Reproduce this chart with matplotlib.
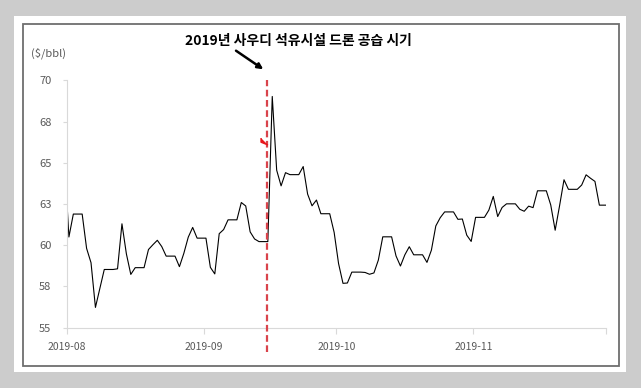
import matplotlib
matplotlib.use("Agg")
import matplotlib.pyplot as plt
import pandas as pd
from matplotlib.patches import Rectangle

plt.rcParams['font.family'] = ['Noto Sans CJK KR', 'DejaVu Sans']

# Brent daily closes (trading days only)
TRADE_DATES = [
    "2019-07-31", "2019-08-01", "2019-08-02", "2019-08-05", "2019-08-06", "2019-08-07",
    "2019-08-08", "2019-08-09", "2019-08-12", "2019-08-13", "2019-08-14", "2019-08-15",
    "2019-08-16", "2019-08-19", "2019-08-20", "2019-08-21", "2019-08-22", "2019-08-23",
    "2019-08-26", "2019-08-27", "2019-08-28", "2019-08-29", "2019-08-30", "2019-09-02",
    "2019-09-03", "2019-09-04", "2019-09-05", "2019-09-06", "2019-09-09", "2019-09-10",
    "2019-09-11", "2019-09-12", "2019-09-13", "2019-09-16", "2019-09-17", "2019-09-18",
    "2019-09-19", "2019-09-20", "2019-09-23", "2019-09-24", "2019-09-25", "2019-09-26",
    "2019-09-27", "2019-09-30", "2019-10-01", "2019-10-02", "2019-10-03", "2019-10-04",
    "2019-10-07", "2019-10-08", "2019-10-09", "2019-10-10", "2019-10-11", "2019-10-14",
    "2019-10-15", "2019-10-16", "2019-10-17", "2019-10-18", "2019-10-21", "2019-10-22",
    "2019-10-23", "2019-10-24", "2019-10-25", "2019-10-28", "2019-10-29", "2019-10-30",
    "2019-10-31", "2019-11-01", "2019-11-04", "2019-11-05", "2019-11-06", "2019-11-07",
    "2019-11-08", "2019-11-11", "2019-11-12", "2019-11-13", "2019-11-14", "2019-11-15",
    "2019-11-18", "2019-11-19", "2019-11-20", "2019-11-21", "2019-11-22", "2019-11-25",
    "2019-11-26", "2019-11-27", "2019-11-28", "2019-11-29",
]
BRENT = [
    65.2, 60.50, 61.89, 59.81, 58.94, 56.23,
    57.38, 58.53, 58.57, 61.30, 59.48, 58.23,
    58.64, 59.74, 60.03, 60.30, 59.92, 59.34,
    58.70, 59.51, 60.49, 61.08, 60.43, 58.66,
    58.26, 60.70, 60.95, 61.54, 62.59, 62.38,
    60.81, 60.38, 60.22, 69.02, 64.55, 63.60,
    64.40, 64.28, 64.77, 63.10, 62.39, 62.74,
    61.91, 60.78, 58.89, 57.69, 57.71, 58.37,
    58.35, 58.24, 58.32, 59.10, 60.51, 59.35,
    58.74, 59.42, 59.91, 59.42, 58.96, 59.70,
    61.17, 61.67, 62.02, 61.57, 61.59, 60.61,
    60.23, 61.69, 62.13, 62.96, 61.74, 62.29,
    62.51, 62.18, 62.06, 62.37, 62.28, 63.30,
    62.44, 60.91, 62.40, 63.97, 63.39, 63.65,
    64.27, 64.06, 63.87, 62.43,
]

Y_TICKS = [55, 57.5, 60, 62.5, 65, 67.5, 70]
Y_LABELS = ["55", "58", "60", "63", "65", "68", "70"]
X_TICKS = ["2019-08-01", "2019-09-01", "2019-10-01", "2019-11-01", "2019-12-01"]
X_LABELS = ["2019-08", "2019-09", "2019-10", "2019-11", ""]
EVENT_DATE = "2019-09-15 08:00"
EVENT_LABEL = "2019년 사우디 석유시설 드론 공습 시기"
UNIT = "($/bbl)"

# weekends carry the previous close, as in the source chart
s = pd.Series(BRENT, index=pd.to_datetime(TRADE_DATES))
s = s.reindex(pd.date_range("2019-07-31", "2019-12-01", freq="D")).ffill()
x = s.index + pd.Timedelta(hours=12)

W, H = 641, 388
fig = plt.figure(figsize=(W / 100, H / 100), dpi=100, facecolor='#cccccc')

# white panel and dark frame (behind the axes)
fig.patches.append(Rectangle((14 / W, 1 - 372 / H), 612 / W, 356 / H,
                             transform=fig.transFigure, facecolor='white',
                             edgecolor='none', zorder=-3))
fig.patches.append(Rectangle((23 / W, 1 - 366 / H), 596 / W, 342 / H,
                             transform=fig.transFigure, facecolor='none',
                             edgecolor='#6e6e6e', lw=1.3, zorder=-2))

ax = fig.add_axes([66.7 / W, 1 - 327.7 / H, (606 - 66.7) / W, (327.7 - 80.3) / H])
ax.set_facecolor('none')
ax.plot(x, s.values, color='black', lw=0.8)

ax.set_xlim(pd.Timestamp("2019-08-01"), pd.Timestamp("2019-12-01"))
ax.set_ylim(55, 70)
ax.set_yticks(Y_TICKS)
ax.set_yticklabels(Y_LABELS)
ax.set_xticks(pd.to_datetime(X_TICKS))
ax.set_xticklabels(X_LABELS)

for side in ['top', 'right']:
    ax.spines[side].set_visible(False)
for side in ['left', 'bottom']:
    ax.spines[side].set_color('#d9d9d9')
    ax.spines[side].set_linewidth(0.8)
ax.tick_params(axis='y', length=3, width=0.8, color='#d9d9d9', pad=8,
               labelsize=8, labelcolor='#595959')
ax.tick_params(axis='x', length=4, width=0.8, color='#d9d9d9', pad=6,
               labelsize=7.5, labelcolor='#595959')

# event marker
ev = pd.Timestamp(EVENT_DATE)
ax.axvline(ev, ymin=-0.098, ymax=1.0, color='#d9434b', lw=1.6,
           dashes=(3, 1.6), clip_on=False, zorder=3)
ax.plot([ev - pd.Timedelta(hours=18)], [66.3], marker=[(-1, 1), (-1, -0.2), (1, -1)],
        color='#e8161b', ms=5, zorder=4)

fig.text(298.5 / W, 1 - 41 / H, EVENT_LABEL, ha='center', va='center',
         fontsize=10, fontweight='bold', color='black')
ax.annotate('', xy=(263.3 / W, 1 - 69.3 / H), xytext=(236 / W, 1 - 50.7 / H),
            xycoords='figure fraction', textcoords='figure fraction',
            arrowprops=dict(arrowstyle='-|>', color='black', lw=1.8,
                            mutation_scale=8, shrinkA=0, shrinkB=0))
fig.text(48 / W, 1 - 53.3 / H, UNIT, ha='center', va='center',
         fontsize=8, color='#595959')

fig.savefig("out.png", dpi=100, facecolor=fig.get_facecolor())
